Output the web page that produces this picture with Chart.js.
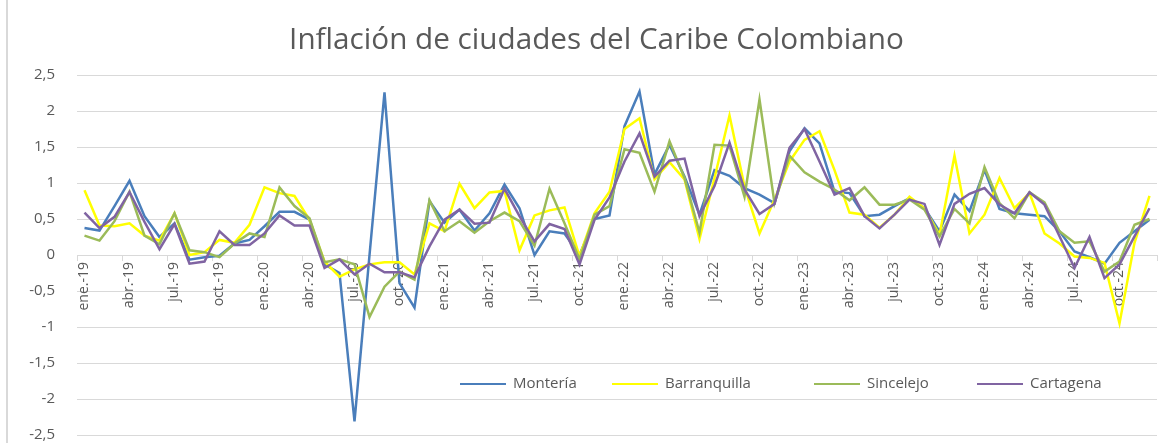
<!DOCTYPE html>
<html lang="es">
<head>
<meta charset="utf-8">
<title>Inflación de ciudades del Caribe Colombiano</title>
<script src="https://cdn.jsdelivr.net/npm/chart.js@4.4.1/dist/chart.umd.min.js"></script>
<style>
    html, body { margin: 0; padding: 0; background: #fff; }
    #wrap { position: relative; width: 1173px; height: 443px; }
    #frame { position: absolute; left: 6px; top: 0; bottom: 0; border-left: 2px solid #d9d9d9; }
    #legend { position: absolute; top: 372px; left: 0; font-family: "Open Sans", sans-serif; font-size: 15px; color: #595959; }
    #legend .item { position: absolute; white-space: nowrap; line-height: 20px; }
    #legend .line { display: inline-block; width: 46px; height: 2.5px; vertical-align: middle; margin-right: 7px; }
</style>
</head>
<body>
<div id="wrap">
    <canvas id="chart"></canvas>
    <div id="frame"></div>
    <div id="legend"></div>
</div>
<script>
/* ---------- DATOS ---------- */
const meses = ["ene.", "feb.", "mar.", "abr.", "may.", "jun.", "jul.", "ago.", "sep.", "oct.", "nov.", "dic."];
const anios = ["19", "20", "21", "22", "23", "24"];
const categorias = [];
anios.forEach(a => meses.forEach(m => categorias.push(m + "-" + a)));

const monteria = [
    0.375, 0.34, 0.68, 1.03, 0.54, 0.25, 0.44, -0.065, -0.03, -0.01, 0.16, 0.21,
    0.40, 0.60, 0.60, 0.49, -0.13, -0.25, -2.31, 0.0, 2.26, -0.39, -0.73, 0.75,
    0.45, 0.63, 0.34, 0.58, 0.98, 0.65, 0.0, 0.33, 0.30, 0.0, 0.50, 0.55,
    1.79, 2.27, 1.12, 1.53, 1.09, 0.56, 1.18, 1.10, 0.93, 0.84, 0.72, 1.44,
    1.76, 1.55, 0.88, 0.86, 0.54, 0.56, 0.68, 0.79, 0.65, 0.33, 0.84, 0.61,
    1.18, 0.64, 0.58, 0.56, 0.54, 0.33, 0.05, -0.03, -0.12, 0.17, 0.33, 0.49
];
const barranquilla = [
    0.90, 0.41, 0.40, 0.44, 0.27, 0.20, 0.58, 0.00, 0.04, 0.21, 0.17, 0.42,
    0.94, 0.86, 0.82, 0.49, -0.09, -0.30, -0.20, -0.13, -0.10, -0.10, -0.27, 0.44,
    0.33, 0.99, 0.65, 0.87, 0.89, 0.065, 0.55, 0.62, 0.66, -0.02, 0.58, 0.88,
    1.75, 1.90, 1.05, 1.29, 1.05, 0.22, 1.07, 1.94, 0.95, 0.30, 0.77, 1.30,
    1.60, 1.72, 1.18, 0.59, 0.56, 0.38, 0.56, 0.81, 0.65, 0.28, 1.38, 0.30,
    0.56, 1.07, 0.65, 0.86, 0.30, 0.16, -0.02, -0.04, -0.11, -0.95, 0.17, 0.82
];
const sincelejo = [
    0.27, 0.20, 0.47, 0.88, 0.27, 0.15, 0.58, 0.065, 0.04, -0.03, 0.16, 0.30,
    0.25, 0.94, 0.68, 0.51, -0.10, -0.06, -0.13, -0.86, -0.44, -0.23, -0.34, 0.76,
    0.33, 0.47, 0.31, 0.47, 0.59, 0.47, 0.13, 0.92, 0.44, -0.06, 0.56, 0.68,
    1.47, 1.42, 0.88, 1.58, 1.07, 0.31, 1.53, 1.52, 0.81, 2.16, 0.72, 1.38,
    1.15, 1.02, 0.91, 0.76, 0.94, 0.70, 0.70, 0.77, 0.63, 0.26, 0.64, 0.44,
    1.22, 0.72, 0.51, 0.87, 0.73, 0.33, 0.17, 0.19, -0.23, -0.09, 0.42, 0.50
];
const cartagena = [
    0.59, 0.375, 0.53, 0.875, 0.46, 0.08, 0.43, -0.12, -0.09, 0.33, 0.14, 0.14,
    0.30, 0.55, 0.41, 0.41, -0.18, -0.06, -0.27, -0.12, -0.24, -0.24, -0.31, 0.12,
    0.49, 0.63, 0.435, 0.45, 0.92, 0.54, 0.19, 0.43, 0.36, -0.13, 0.49, 0.80,
    1.30, 1.69, 1.09, 1.31, 1.34, 0.54, 0.96, 1.56, 0.91, 0.57, 0.71, 1.49,
    1.75, 1.30, 0.84, 0.93, 0.54, 0.37, 0.56, 0.77, 0.71, 0.14, 0.71, 0.85,
    0.93, 0.70, 0.58, 0.87, 0.70, 0.26, -0.18, 0.25, -0.32, -0.13, 0.26, 0.65
];

const series = [
    { label: "Montería", data: monteria, color: "#4a7ebb", legendX: 460 },
    { label: "Barranquilla", data: barranquilla, color: "#ffff00", legendX: 612 },
    { label: "Sincelejo", data: sincelejo, color: "#9bbb59", legendX: 814 },
    { label: "Cartagena", data: cartagena, color: "#8064a2", legendX: 977 }
];

const gris = "#595959";

// nudges the title right, like the original
const moverTitulo = {
    id: "moverTitulo",
    afterLayout(c) {
        if (c.titleBlock) { c.titleBlock.left += 18; c.titleBlock.right += 18; }
    }
};

/* ---------- GRAFICO ---------- */
const chart = new Chart(document.getElementById("chart"), {
    type: "line",
    data: {
        labels: categorias,
        datasets: series.map((s, i) => ({
            label: s.label,
            data: s.data,
            borderColor: s.color,
            backgroundColor: s.color,
            borderWidth: 2.5,
            pointRadius: 0,
            tension: 0,
            order: series.length - i
        }))
    },
    options: {
        responsive: true,
        maintainAspectRatio: false,
        animation: false,
        layout: { padding: { left: 0, right: 16, top: 0, bottom: 8 } },
        plugins: {
            legend: { display: false },
            tooltip: { enabled: false },
            title: {
                display: true,
                text: "Inflación de ciudades del Caribe Colombiano",
                color: gris,
                font: { family: "Open Sans", size: 29.7, weight: "normal" },
                padding: { top: 23, bottom: 16.4 }
            }
        },
        scales: {
            x: {
                position: { y: 0 },
                offset: true,
                border: { display: true, color: "#d9d9d9", width: 1 },
                grid: {
                    offset: true,
                    drawOnChartArea: false,
                    drawTicks: true,
                    tickLength: 5,
                    color: ctx => (ctx.index === undefined || ctx.index % 3 === 0) ? "#d9d9d9" : "rgba(0,0,0,0)"
                },
                ticks: {
                    autoSkip: false,
                    minRotation: 90,
                    maxRotation: 90,
                    padding: 2,
                    color: gris,
                    font: { family: "Open Sans", size: 14 },
                    callback: function (v, i) { return i % 3 === 0 ? categorias[i] : ""; }
                }
            },
            y: {
                min: -2.5,
                max: 2.5,
                border: { display: false },
                grid: { color: "#d9d9d9", lineWidth: 1, drawTicks: false },
                ticks: {
                    stepSize: 0.5,
                    padding: 22,
                    color: gris,
                    font: { family: "Open Sans", size: 15 },
                    callback: v => String(v).replace(".", ",")
                },
                afterFit: scale => {
                    scale.width = 77;
                    // tick padding would otherwise eat 30px under the plot
                    scale.paddingTop = 0;
                    scale.paddingBottom = 0;
                }
            }
        }
    },
    plugins: [moverTitulo]
});

/* ---------- LEYENDA ---------- */
const leg = document.getElementById("legend");
series.forEach(s => {
    const it = document.createElement("span");
    it.className = "item";
    it.style.left = s.legendX + "px";
    const ln = document.createElement("span");
    ln.className = "line";
    ln.style.background = s.color;
    it.appendChild(ln);
    it.appendChild(document.createTextNode(s.label));
    leg.appendChild(it);
});
</script>
</body>
</html>
